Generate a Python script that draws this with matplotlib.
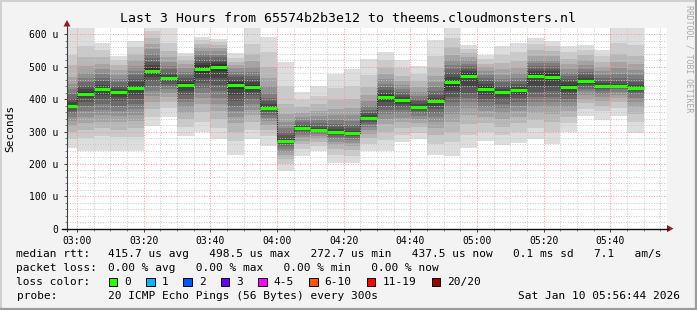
import numpy as np
import matplotlib
matplotlib.use("Agg")
import matplotlib.pyplot as plt
from matplotlib.lines import Line2D
from matplotlib.patches import Rectangle, Polygon

plt.rcParams['font.family'] = ['DejaVu Sans Mono']

W, H = 697, 310

# --- data (times in minutes after 03:00, rtt in microseconds)
bar_start = np.arange(-5, 170, 5)   # one step every 300s, 35 steps

median_rtt = [380, 417, 432, 421, 435, 488, 464, 444, 494, 498, 445, 438, 374,
              272, 310, 306, 300, 295, 343, 407, 396, 377, 393, 452, 473, 433,
              421, 427, 473, 469, 438, 457, 442, 442, 436]

# 20 sorted pings per step
pings = [
    [250, 276, 300, 318, 333, 345, 356, 365, 372, 378, 383, 392, 402, 415, 430, 448, 470, 505, 538, 640],
    [241, 281, 305, 325, 345, 362, 378, 392, 403, 412, 422, 432, 442, 452, 465, 480, 503, 530, 565, 640],
    [240, 285, 310, 330, 350, 368, 385, 400, 414, 428, 436, 445, 455, 465, 478, 492, 510, 530, 552, 574],
    [241, 282, 305, 328, 348, 365, 380, 395, 407, 417, 425, 433, 442, 452, 462, 475, 490, 505, 520, 535],
    [241, 283, 310, 332, 352, 370, 386, 400, 414, 428, 442, 452, 462, 474, 488, 503, 520, 540, 560, 580],
    [317, 345, 370, 392, 410, 425, 440, 455, 468, 480, 495, 505, 515, 527, 540, 555, 570, 590, 612, 640],
    [345, 372, 392, 408, 420, 430, 440, 448, 455, 461, 467, 474, 482, 492, 503, 515, 530, 548, 575, 640],
    [286, 315, 338, 358, 375, 390, 402, 414, 425, 437, 450, 458, 466, 475, 485, 496, 508, 520, 532, 543],
    [298, 330, 360, 385, 405, 420, 435, 450, 465, 482, 505, 512, 520, 530, 540, 550, 560, 572, 583, 593],
    [276, 310, 340, 365, 385, 405, 425, 445, 465, 487, 508, 515, 522, 530, 538, 548, 558, 568, 578, 586],
    [229, 270, 300, 325, 345, 362, 378, 395, 412, 432, 452, 460, 468, 476, 485, 495, 505, 515, 528, 543],
    [276, 305, 330, 350, 368, 385, 400, 413, 423, 433, 443, 452, 462, 473, 485, 500, 518, 540, 570, 640],
    [255, 285, 305, 320, 333, 343, 352, 360, 366, 371, 377, 384, 393, 405, 420, 440, 465, 500, 545, 593],
    [178, 200, 215, 228, 238, 247, 255, 261, 266, 270, 274, 280, 288, 298, 312, 330, 355, 385, 440, 514],
    [224, 245, 260, 272, 282, 290, 297, 302, 306, 309, 312, 316, 321, 328, 336, 346, 358, 375, 398, 422],
    [240, 255, 267, 277, 285, 292, 297, 301, 304, 306, 308, 312, 318, 325, 335, 348, 365, 385, 410, 442],
    [204, 228, 245, 258, 268, 277, 284, 290, 295, 298, 302, 307, 314, 323, 335, 350, 370, 398, 435, 479],
    [204, 225, 242, 255, 265, 274, 281, 287, 291, 294, 297, 302, 310, 320, 333, 350, 372, 400, 440, 492],
    [240, 262, 280, 293, 305, 315, 323, 330, 336, 341, 345, 350, 357, 366, 378, 393, 412, 438, 475, 525],
    [240, 275, 300, 322, 340, 355, 368, 380, 392, 402, 412, 420, 428, 437, 448, 462, 478, 497, 520, 545],
    [267, 290, 310, 328, 343, 356, 367, 377, 385, 392, 400, 407, 414, 422, 432, 443, 457, 473, 495, 520],
    [276, 297, 313, 327, 338, 348, 356, 363, 369, 374, 380, 386, 393, 401, 411, 423, 437, 455, 477, 502],
    [226, 262, 290, 312, 330, 345, 358, 370, 380, 389, 397, 405, 414, 425, 438, 453, 472, 497, 535, 582],
    [224, 268, 300, 330, 355, 375, 392, 408, 425, 442, 460, 470, 480, 492, 505, 520, 538, 560, 590, 640],
    [250, 290, 322, 350, 372, 390, 405, 420, 440, 465, 480, 487, 494, 502, 510, 520, 530, 542, 555, 569],
    [271, 300, 325, 345, 362, 377, 390, 402, 413, 425, 440, 448, 456, 465, 475, 486, 498, 510, 523, 538],
    [257, 290, 315, 338, 356, 372, 386, 398, 408, 417, 425, 433, 442, 452, 463, 476, 492, 512, 537, 564],
    [265, 300, 325, 345, 363, 378, 391, 403, 414, 423, 431, 439, 447, 456, 467, 480, 497, 518, 545, 574],
    [278, 310, 335, 357, 375, 392, 407, 422, 440, 465, 480, 487, 494, 502, 511, 522, 535, 552, 570, 590],
    [263, 300, 330, 355, 375, 392, 408, 425, 442, 460, 478, 486, 494, 502, 511, 522, 535, 550, 565, 579],
    [298, 325, 345, 362, 377, 390, 402, 413, 423, 433, 443, 452, 461, 471, 482, 494, 508, 525, 545, 564],
    [348, 370, 388, 402, 414, 424, 433, 441, 448, 454, 460, 467, 475, 484, 494, 506, 520, 536, 552, 569],
    [337, 362, 380, 395, 407, 417, 425, 432, 437, 440, 444, 450, 457, 465, 475, 487, 500, 516, 533, 553],
    [348, 372, 390, 403, 414, 423, 430, 435, 439, 441, 443, 448, 455, 465, 478, 495, 515, 540, 575, 640],
    [296, 330, 355, 375, 392, 405, 415, 423, 429, 434, 438, 444, 452, 462, 475, 490, 510, 532, 569, 640],
]

x_ticks = [0, 20, 40, 60, 80, 100, 120, 140, 160]
x_tick_labels = ["03:00", "03:20", "03:40", "04:00", "04:20", "04:40",
                 "05:00", "05:20", "05:40"]
y_ticks = [0, 100, 200, 300, 400, 500, 600]
y_tick_labels = ["0", "100 u", "200 u", "300 u", "400 u", "500 u", "600 u"]

loss_labels = ["0", "1", "2", "3", "4-5", "6-10", "11-19", "20/20"]
loss_colors = ["#26ff00", "#00b8ff", "#0059ff", "#6a00ff", "#ff00ff",
               "#ff5500", "#ff0000", "#a10000"]

title = "Last 3 Hours from 65574b2b3e12 to theems.cloudmonsters.nl"
rtt_line = "415.7 us avg   498.5 us max   272.7 us min   437.5 us now   0.1 ms sd   7.1   am/s"
loss_line = "0.00 % avg   0.00 % max   0.00 % min   0.00 % now"
probe_line = "20 ICMP Echo Pings (56 Bytes) every 300s"
stamp = "Sat Jan 10 05:56:44 2026"
# ---

pings = np.array(pings, dtype=float)
median_rtt = np.array(median_rtt, dtype=float)


def fx(x):
    return x / W


def fy(y):
    return 1 - y / H


fig = plt.figure(figsize=(W / 100, H / 100), dpi=100, facecolor="#f3f3f3")

# plot box: x 67..667 px, y 28..228.6 px
ax = fig.add_axes([fx(67), fy(228.6), fx(600), 200.6 / H])
ax.set_facecolor("white")
ax.set_xlim(-3, 177)
ax.set_ylim(0, 620)

# smoke: outer pings lightest, inner pings darkest
for k in range(10):
    g = int(190 / 10 * (10 - (k + 1))) + 50
    col = "#%02x%02x%02x" % (g, g, g)
    lo = pings[:, k]
    hi = pings[:, 19 - k]
    ax.bar(bar_start, hi - lo, bottom=lo, width=5, align="edge",
           color=col, linewidth=0, zorder=2)

# grid
minor_col = "#c8c8c8"
major_col = "#ff9090"
dots = (0, (1, 1.6))
for v in np.arange(20, 620, 20):
    if v % 100:
        ax.axhline(v, color=minor_col, lw=0.7, ls=dots, zorder=3)
for v in np.arange(100, 620, 100):
    ax.axhline(v, color=major_col, lw=0.7, ls=dots, zorder=3)
for t in np.arange(-0, 180, 5):
    if t % 20:
        ax.axvline(t, color=minor_col, lw=0.7, ls=dots, zorder=3)
for t in x_ticks:
    ax.axvline(t, color=major_col, lw=0.7, ls=dots, zorder=3)

# median: black step + green loss-colored bars
edges = np.append(bar_start, bar_start[-1] + 5)
ax.stairs(median_rtt, edges, baseline=None, color="#202020", lw=0.8,
          ls=(0, (1, 1)), zorder=4)
ax.hlines(median_rtt, bar_start, bar_start + 5, colors=loss_colors[0],
          lw=2.2, zorder=5)

for s in ax.spines.values():
    s.set_visible(False)

ax.set_xticks(x_ticks)
ax.set_xticklabels(x_tick_labels)
ax.set_yticks(y_ticks)
ax.set_yticklabels(y_tick_labels)
ax.set_xticks(np.arange(-0, 180, 5), minor=True)
ax.set_yticks(np.arange(0, 620, 20), minor=True)
ax.tick_params(which="major", length=2.5, width=0.7, color="#404040",
               labelsize=7.05, pad=3.5)
ax.tick_params(which="minor", length=1.5, width=0.7, color="#808080")
ax.tick_params(axis="x", which="major", pad=2.5)

# axis lines and arrows
fig.add_artist(Line2D([fx(67), fx(67)], [fy(230.5), fy(26)], color="#404040", lw=0.8))
fig.add_artist(Line2D([fx(62), fx(668)], [fy(228.6), fy(228.6)], color="#101010", lw=1.0))
fig.add_artist(Polygon([[fx(63.5), fy(26.5)], [fx(70.5), fy(26.5)], [fx(67), fy(20)]],
                       closed=True, color="#9a1a1a", lw=0))
fig.add_artist(Polygon([[fx(667), fy(225)], [fx(667), fy(232.2)], [fx(673.5), fy(228.6)]],
                       closed=True, color="#9a1a1a", lw=0))

# frame shading
fig.add_artist(Line2D([0, 1], [fy(0.5), fy(0.5)], color="#d0d0d0", lw=1.4))
fig.add_artist(Line2D([fx(0.5), fx(0.5)], [0, 1], color="#d0d0d0", lw=1.4))
fig.add_artist(Line2D([0, 1], [fy(309), fy(309)], color="#9c9c9c", lw=1.6))
fig.add_artist(Line2D([fx(696), fx(696)], [0, 1], color="#9c9c9c", lw=1.6))

# texts
fig.text(0.5, fy(19), title, ha="center", va="center", fontsize=9.5)
fig.text(fx(10), fy(128), "Seconds", rotation=90, ha="center", va="center",
         fontsize=8)
fig.text(fx(689), fy(59), "RRDTOOL / TOBI OETIKER", rotation=270,
         ha="center", va="center", fontsize=5.9, color="#a8a8a8")

fs = 8.0
fig.text(fx(16.5), fy(254), "median rtt:", va="center", fontsize=fs)
fig.text(fx(108), fy(254), rtt_line, va="center", fontsize=fs)
fig.text(fx(16.5), fy(268), "packet loss:", va="center", fontsize=fs)
fig.text(fx(108), fy(268), loss_line, va="center", fontsize=fs)
fig.text(fx(16.5), fy(282), "loss color:", va="center", fontsize=fs)
box_x = [108.5, 146, 183.5, 220.5, 258, 309, 367, 432]
for bx, lab, col in zip(box_x, loss_labels, loss_colors):
    fig.add_artist(Rectangle((fx(bx), fy(286.3)), 8.5 / W, 8.5 / H,
                             facecolor=col, edgecolor="black", lw=0.7))
    fig.text(fx(bx + 15.5), fy(282), lab, va="center", fontsize=fs)
fig.text(fx(16.5), fy(296), "probe:", va="center", fontsize=fs)
fig.text(fx(108), fy(296), probe_line, va="center", fontsize=fs)
fig.text(fx(680), fy(296), stamp, ha="right", va="center", fontsize=fs)

fig.savefig("out.png", dpi=100, facecolor=fig.get_facecolor())
